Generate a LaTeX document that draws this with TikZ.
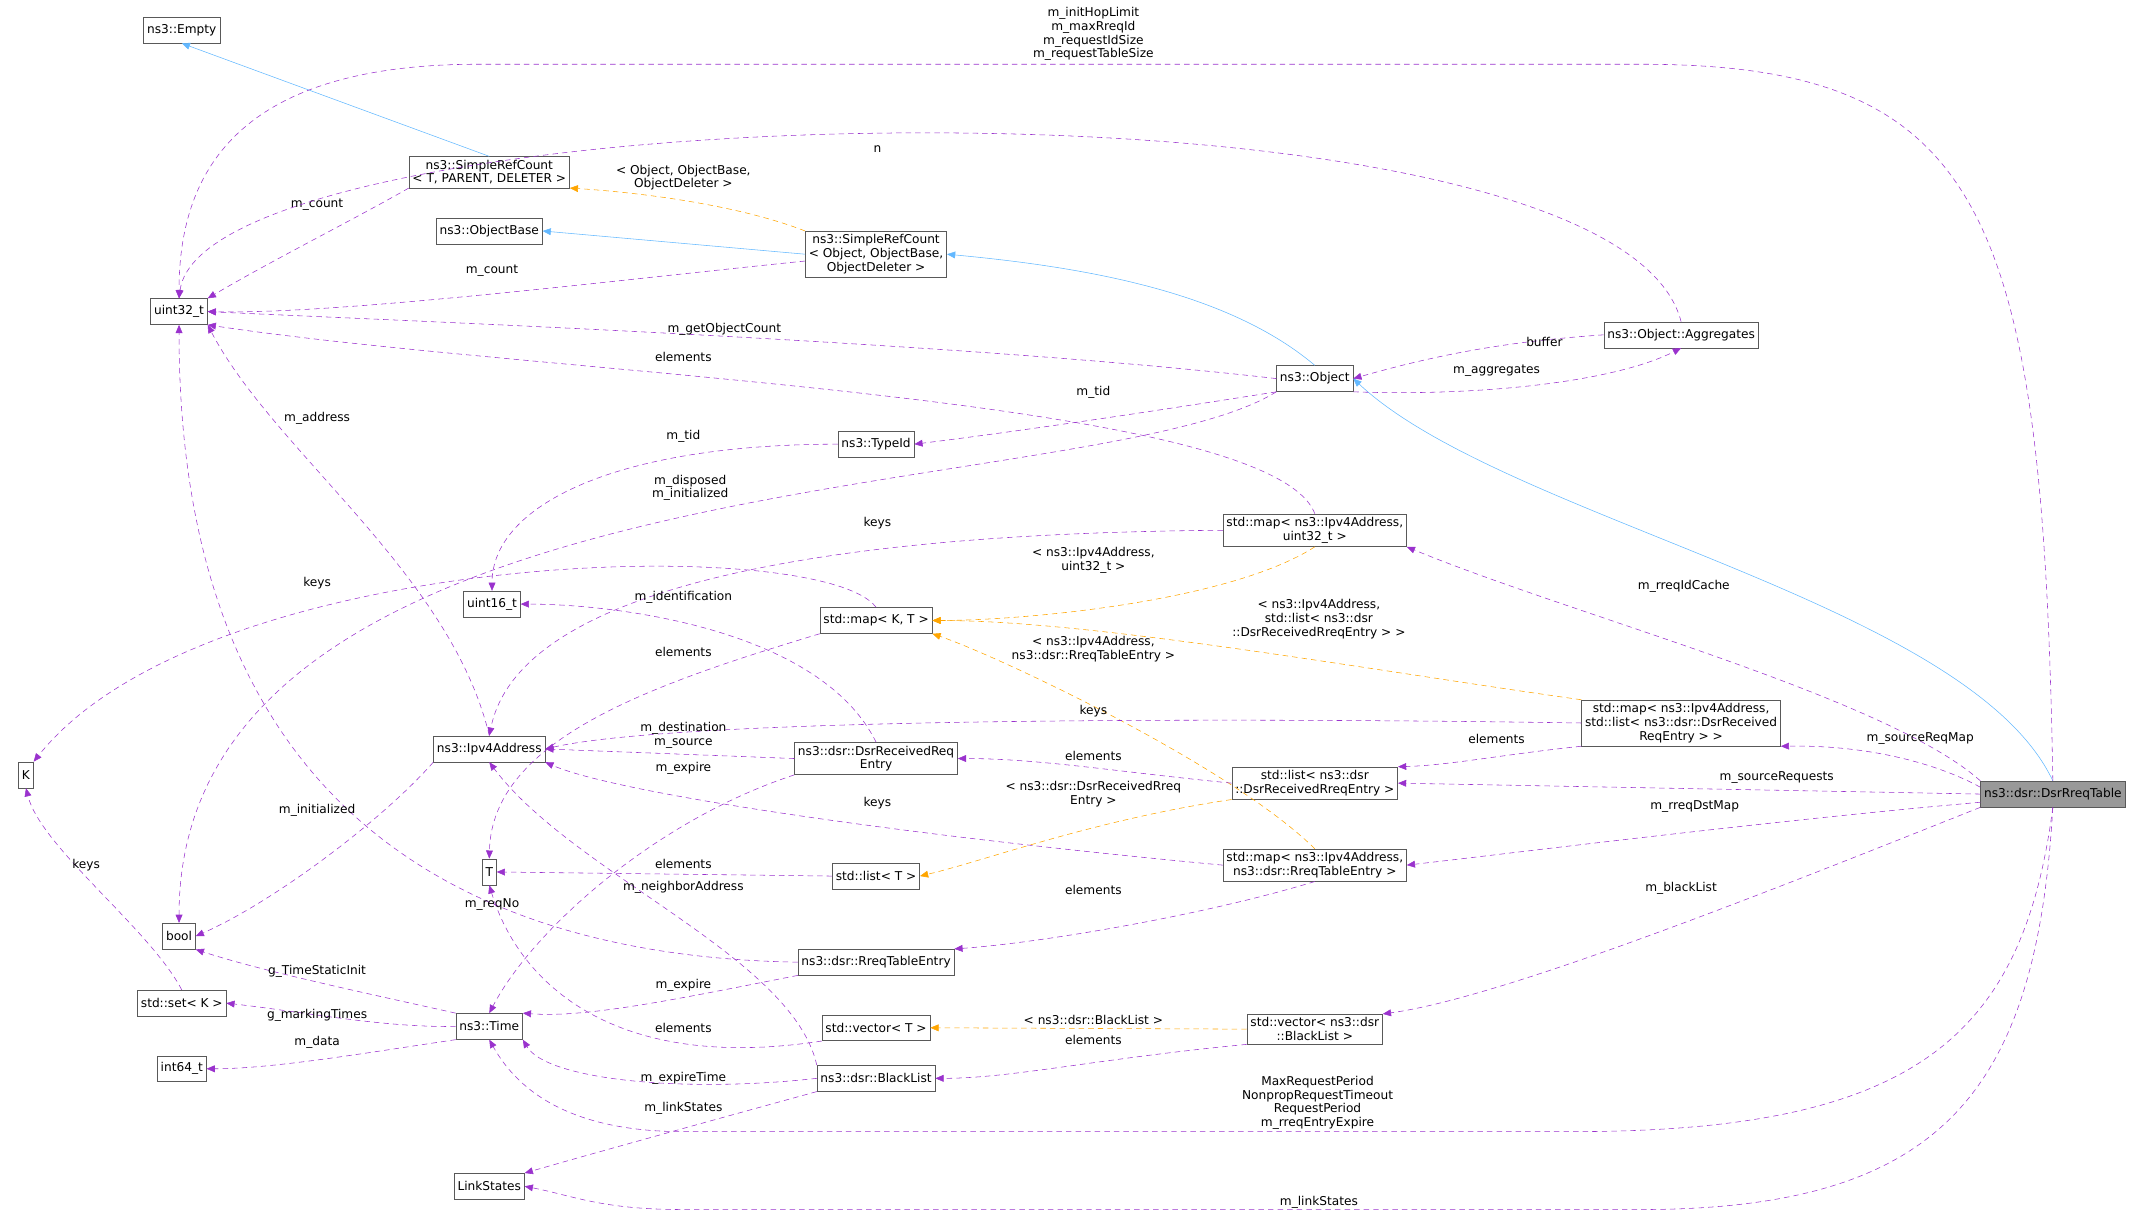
\documentclass[tikz,border=0pt]{standalone}
\usepackage{fontspec}
\setmainfont{DejaVu Sans}
\usetikzlibrary{arrows.meta}
\definecolor{purp}{HTML}{9A32CD}
\definecolor{blu}{HTML}{63B8FF}
\definecolor{org}{HTML}{FFA500}
\begin{document}
\begin{tikzpicture}[x=1pt,y=-1pt,
  font=\fontsize{8.9}{10}\selectfont,
  bx/.style={draw=black!65, fill=white, inner sep=2.5pt, minimum height=19pt, align=center},
  ed/.style={draw=purp, dash pattern=on 4pt off 3pt, -{Triangle[length=6pt,width=5pt]}},
  eo/.style={draw=org, dash pattern=on 4pt off 3pt, -{Triangle[length=6pt,width=5pt]}},
  eb/.style={draw=blu, -{Triangle[length=6pt,width=5pt]}},
  lb/.style={align=center, inner sep=0pt}]
\useasboundingbox (0,0) rectangle (1568,890);
\node[bx] (empty) at (133,22) {ns3::Empty};
\node[bx] (srct) at (358,126) {ns3::SimpleRefCount\\< T, PARENT, DELETER >};
\node[bx] (obase) at (358,169) {ns3::ObjectBase};
\node[bx] (u32) at (131,228) {uint32\_t};
\node[bx] (srco) at (641,186) {ns3::SimpleRefCount\\< Object, ObjectBase,\\ObjectDeleter >};
\node[bx] (agg) at (1230,245) {ns3::Object::Aggregates};
\node[bx] (obj) at (962,277) {ns3::Object};
\node[bx] (tid) at (641,325) {ns3::TypeId};
\node[bx] (mapiu) at (962,388) {std::map< ns3::Ipv4Address,\\uint32\_t >};
\node[bx] (u16) at (360,442) {uint16\_t};
\node[bx] (mapkt) at (641,454) {std::map< K, T >};
\node[bx] (k) at (19,567) {K};
\node[bx] (ip) at (358,548) {ns3::Ipv4Address};
\node[bx] (drre) at (641,555) {ns3::dsr::DsrReceivedReq\\Entry};
\node[bx] (mapil) at (1230,529) {std::map< ns3::Ipv4Address,\\std::list< ns3::dsr::DsrReceived\\ReqEntry > >};
\node[bx] (listd) at (962,573) {std::list< ns3::dsr\\::DsrReceivedRreqEntry >};
\node[bx, fill=black!40] (tbl) at (1502,581) {ns3::dsr::DsrRreqTable};
\node[bx] (t) at (358,638) {T};
\node[bx] (listt) at (641,641) {std::list< T >};
\node[bx] (mapir) at (962,633) {std::map< ns3::Ipv4Address,\\ns3::dsr::RreqTableEntry >};
\node[bx] (bool) at (131,685) {bool};
\node[bx] (rte) at (641,704) {ns3::dsr::RreqTableEntry};
\node[bx] (setk) at (133,734) {std::set< K >};
\node[bx] (time) at (358,751) {ns3::Time};
\node[bx] (vect) at (641,752) {std::vector< T >};
\node[bx] (vecbl) at (962,753) {std::vector< ns3::dsr\\::BlackList >};
\node[bx] (i64) at (133,782) {int64\_t};
\node[bx] (bl) at (641,789) {ns3::dsr::BlackList};
\node[bx] (ls) at (358,868) {LinkStates};

% inheritance
\draw[eb] (srct.north) -- (empty.south);
\draw[eb] (srco.west) -- (obase.east);
\draw[eb] (obj.north) .. controls (900,215) and (800,196) .. (srco.east);
\draw[eb] (tbl.north) .. controls (1440,440) and (1100,380) .. (obj.east);
% orange template
\draw[eo] (srco.north west) .. controls (540,150) and (470,141) .. (srct.south east);
\node[lb] at (500,130) {< Object, ObjectBase,\\ObjectDeleter >};
\draw[eo] (mapiu.south) .. controls (900,440) and (750,454) .. (mapkt.east);
\node[lb] at (800,410) {< ns3::Ipv4Address,\\uint32\_t >};
\draw[eo] (mapil.north west) .. controls (1000,490) and (800,454) .. (mapkt.east);
\node[lb] at (965,453) {< ns3::Ipv4Address,\\std::list< ns3::dsr\\::DsrReceivedRreqEntry > >};
\draw[eo] (mapir.north) .. controls (900,560) and (730,480) .. (mapkt.south east);
\node[lb] at (800,475) {< ns3::Ipv4Address,\\ns3::dsr::RreqTableEntry >};
\draw[eo] (listd.south west) .. controls (800,600) and (720,630) .. (listt.east);
\node[lb] at (800,581) {< ns3::dsr::DsrReceivedRreq\\Entry >};
\draw[eo] (vecbl.west) -- (vect.east);
\node[lb] at (800,746) {< ns3::dsr::BlackList >};

% purple members
\draw[ed] (srct.south west) .. controls (260,160) and (200,190) .. (u32.north east);
\node[lb] at (232,150) {m\_count};
\draw[ed] (srco.west) ++(0,5) .. controls (450,205) and (250,230) .. (u32.east);
\node[lb] at (360,198) {m\_count};
\draw[ed] (obj.west) .. controls (700,250) and (300,235) .. (u32.east);
\node[lb] at (530,241) {m\_getObjectCount};
\draw[ed] (agg.north) .. controls (1180,40) and (150,70) .. (u32.north);
\node[lb] at (642,109) {n};
\draw[ed] (agg.west) .. controls (1100,250) and (1050,260) .. (obj.east);
\node[lb] at (1130,250) {buffer};
\draw[ed] (obj.south east) .. controls (1080,290) and (1180,280) .. (agg.south);
\node[lb] at (1095,271) {m\_aggregates};
\draw[ed] (obj.south west) .. controls (850,300) and (750,315) .. (tid.east);
\node[lb] at (800,287) {m\_tid};
\draw[ed] (obj.south west) .. controls (800,370) and (131,330) .. (bool.north);
\node[lb] at (505,357) {m\_disposed\\m\_initialized};
\draw[ed] (tid.west) .. controls (450,325) and (360,370) .. (u16.north);
\node[lb] at (500,319) {m\_tid};
\draw[ed] (mapiu.north) .. controls (930,290) and (400,275) .. (u32.south east);
\node[lb] at (500,261) {elements};
\draw[ed] (mapiu.west) .. controls (600,390) and (380,430) .. (ip.north);
\node[lb] at (642,383) {keys};
\draw[ed] (mapkt.north) .. controls (600,390) and (150,400) .. (k.north east);
\node[lb] at (232,427) {keys};
\draw[ed] (mapkt.south west) .. controls (480,500) and (360,540) .. (t.north);
\node[lb] at (500,477) {elements};
\draw[ed] (tbl.north) .. controls (1495,150) and (1450,47) .. (1200,47) -- (350,47) .. controls (180,47) and (131,120) .. (u32.north);
\node[lb] at (800,25) {m\_initHopLimit\\m\_maxRreqId\\m\_requestIdSize\\m\_requestTableSize};
\draw[ed] (tbl.north west) .. controls (1380,510) and (1150,450) .. (mapiu.south east);
\node[lb] at (1232,429) {m\_rreqIdCache};
\draw[ed] (tbl.west) ++(0,-5) .. controls (1420,560) and (1370,545) .. (mapil.south east);
\node[lb] at (1405,540) {m\_sourceReqMap};
\draw[ed] (tbl.west) -- (listd.east);
\node[lb] at (1300,569) {m\_sourceRequests};
\draw[ed] (tbl.west) ++(0,6) .. controls (1300,600) and (1100,625) .. (mapir.east);
\node[lb] at (1240,590) {m\_rreqDstMap};
\draw[ed] (tbl.south west) .. controls (1300,650) and (1100,730) .. (vecbl.north east);
\node[lb] at (1230,650) {m\_blackList};
\draw[ed] (tbl.south) .. controls (1480,760) and (1400,828) .. (1150,828) -- (500,828) .. controls (420,828) and (380,800) .. (time.south);
\node[lb] at (964,807) {MaxRequestPeriod\\NonpropRequestTimeout\\RequestPeriod\\m\_rreqEntryExpire};
\draw[ed] (tbl.south) .. controls (1490,800) and (1420,885) .. (1200,885) -- (500,885) .. controls (440,885) and (420,875) .. (ls.east);
\node[lb] at (965,880) {m\_linkStates};
\draw[ed] (mapil.west) .. controls (900,525) and (500,525) .. (ip.east);
\node[lb] at (800,520) {keys};
\draw[ed] (mapil.south west) .. controls (1100,552) and (1060,560) .. (listd.north east);
\node[lb] at (1095,541) {elements};
\draw[ed] (listd.west) .. controls (820,565) and (760,555) .. (drre.east);
\node[lb] at (800,553) {elements};
\draw[ed] (drre.west) -- (ip.east);
\node[lb] at (500,538) {m\_destination\\m\_source};
\draw[ed] (drre.north) .. controls (600,460) and (450,442) .. (u16.east);
\node[lb] at (500,437) {m\_identification};
\draw[ed] (drre.south west) .. controls (480,600) and (390,680) .. (time.north);
\node[lb] at (500,562) {m\_expire};
\draw[ed] (mapir.west) .. controls (650,610) and (450,580) .. (ip.south east);
\node[lb] at (642,588) {keys};
\draw[ed] (mapir.south) .. controls (880,670) and (760,690) .. (rte.north east);
\node[lb] at (800,651) {elements};
\draw[ed] (listt.west) -- (t.east);
\node[lb] at (500,632) {elements};
\draw[ed] (rte.west) .. controls (350,700) and (131,600) .. (u32.south);
\node[lb] at (360,662) {m\_reqNo};
\draw[ed] (rte.south west) .. controls (500,730) and (430,745) .. (time.north east);
\node[lb] at (500,721) {m\_expire};
\draw[ed] (ip.north) .. controls (330,420) and (200,330) .. (u32.south east);
\node[lb] at (232,306) {m\_address};
\draw[ed] (ip.south west) .. controls (280,600) and (200,660) .. (bool.east);
\node[lb] at (232,593) {m\_initialized};
\draw[ed] (time.north west) .. controls (260,725) and (190,710) .. (bool.south east);
\node[lb] at (232,711) {g\_TimeStaticInit};
\draw[ed] (time.west) .. controls (280,752) and (220,740) .. (setk.east);
\node[lb] at (232,743) {g\_markingTimes};
\draw[ed] (time.south west) .. controls (270,770) and (200,782) .. (i64.east);
\node[lb] at (232,763) {m\_data};
\draw[ed] (setk.north) .. controls (110,680) and (30,620) .. (k.south);
\node[lb] at (63,633) {keys};
\draw[ed] (vect.south west) .. controls (450,785) and (380,720) .. (t.south);
\node[lb] at (500,752) {elements};
\draw[ed] (vecbl.south west) .. controls (800,775) and (740,789) .. (bl.east);
\node[lb] at (800,761) {elements};
\draw[ed] (bl.west) .. controls (500,800) and (400,790) .. (time.south east);
\node[lb] at (500,789) {m\_expireTime};
\draw[ed] (bl.north west) .. controls (580,700) and (420,640) .. (ip.south);
\node[lb] at (500,649) {m\_neighborAddress};
\draw[ed] (bl.south west) .. controls (520,820) and (430,845) .. (ls.north east);
\node[lb] at (500,811) {m\_linkStates};
\end{tikzpicture}
\end{document}
